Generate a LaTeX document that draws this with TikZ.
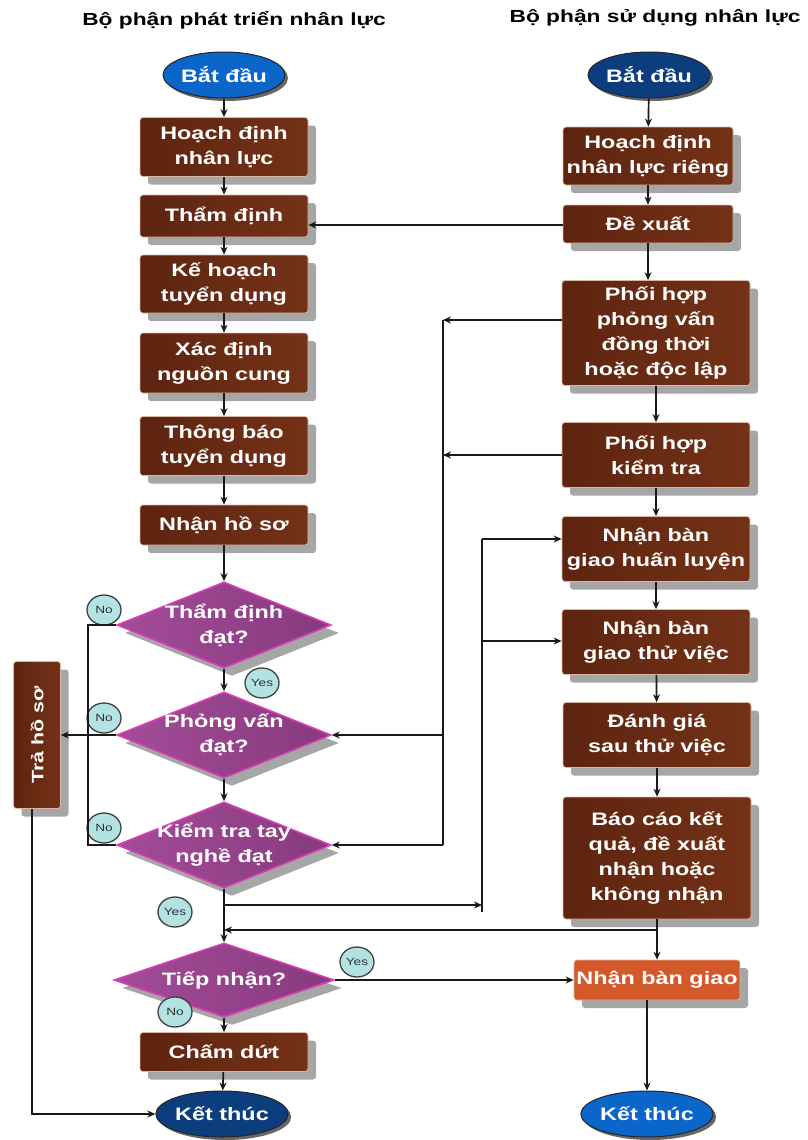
\documentclass[tikz,border=0pt]{standalone}
\usepackage{fontspec}
\usepackage{graphicx}
\setmainfont{Liberation Sans}
\newfontfamily\wide[FakeStretch=1.3]{Liberation Sans}
\usetikzlibrary{shapes.geometric,shadows,arrows.meta,calc}

\definecolor{brownL}{HTML}{5E2410}
\definecolor{brownR}{HTML}{743217}
\definecolor{boxedge}{HTML}{D9B8A8}
\definecolor{purpL}{HTML}{A34C98}
\definecolor{purpR}{HTML}{873A7E}
\definecolor{purpedge}{HTML}{D63CB4}
\definecolor{bluebright}{HTML}{0A66C8}
\definecolor{bluedark}{HTML}{0C3D7C}
\definecolor{orangebox}{HTML}{D4592A}
\definecolor{tagfill}{HTML}{B2E2E2}

\tikzset{
  shade/.style={drop shadow={shadow xshift=8pt,shadow yshift=-8pt,fill=black!35,opacity=1}},
  procbox/.style={rectangle, rounded corners=3pt, left color=brownL, right color=brownR,
    draw=boxedge, line width=0.7pt, text=white, align=center, inner sep=0pt,
    font=\wide\bfseries\fontsize{18}{25}\selectfont, shade},
  decide/.style={diamond, left color=purpL, right color=purpR, draw=purpedge,
    line width=1.6pt, text=white,
    align=center, inner xsep=-25pt, inner ysep=-12pt, aspect=2.5,
    minimum width=214pt, minimum height=86pt,
    font=\wide\bfseries\fontsize{18}{25}\selectfont, shade},
  terminal/.style={ellipse, draw=black!85, line width=1pt, text=white, inner sep=0pt,
    minimum width=122pt, minimum height=46pt,
    font=\wide\bfseries\fontsize{18}{22}\selectfont,
    drop shadow={shadow xshift=3pt,shadow yshift=-3pt,fill=black!60,opacity=1}},
  tag/.style={ellipse, fill=tagfill, draw=black!75, line width=1.3pt, inner sep=0pt,
    minimum width=34pt, minimum height=30pt, text=black!80,
    font=\wide\fontsize{10.5}{12}\selectfont},
  title/.style={font=\wide\bfseries\fontsize{17.5}{20}\selectfont, text=black},
  link/.style={line width=1.7pt, draw=black!90},
  arr/.style={link, -{Stealth[length=8pt,width=7pt]}},
}

\begin{document}
\begin{tikzpicture}[x=1pt,y=-1pt]
\useasboundingbox (0,0) rectangle (808,1140);

% column headings
\node[title] (h1) at (234,20) {Bộ phận phát triển nhân lực};
\node[title] (h2) at (655,18) {Bộ phận sử dụng nhân lực};

% ---- development department column ----
\node[terminal, fill=bluebright] (bd1) at (224,75) {Bắt đầu};
\node[procbox, minimum width=168pt, minimum height=59pt] (hd1) at (224,147) {Hoạch định\\nhân lực};
\node[procbox, minimum width=168pt, minimum height=42pt] (td) at (224,216) {Thẩm định};
\node[procbox, minimum width=168pt, minimum height=58pt] (kh) at (224,284) {Kế hoạch\\tuyển dụng};
\node[procbox, minimum width=168pt, minimum height=60pt] (xd) at (224,363) {Xác định\\nguồn cung};
\node[procbox, minimum width=168pt, minimum height=59pt] (tb) at (224,446) {Thông báo\\tuyển dụng};
\node[procbox, minimum width=168pt, minimum height=40pt] (nh) at (224,525) {Nhận hồ sơ};
\node[decide] (d1) at (224,625) {Thẩm định\\đạt?};
\node[decide] (d2) at (224,735) {Phỏng vấn\\đạt?};
\node[decide] (d3) at (224,845) {Kiểm tra tay\\nghề đạt};
\node[decide, minimum width=220pt, minimum height=74pt] (tn) at (224,980) {Tiếp nhận?};
\node[procbox, minimum width=168pt, minimum height=39pt] (cd) at (224,1052) {Chấm dứt};
\node[terminal, fill=bluedark, minimum width=128pt] (kt1) at (222,1114) {Kết thúc};
\node[procbox, minimum width=47pt, minimum height=147pt,
      font=\wide\bfseries\fontsize{16.5}{20}\selectfont] (tra) at (37,735) {\rotatebox{90}{Trả hồ sơ}};

% ---- user department column ----
\node[terminal, fill=bluedark] (bd2) at (649,75) {Bắt đầu};
\node[procbox, minimum width=170pt, minimum height=58pt] (hd2) at (648,156) {Hoạch định\\nhân lực riêng};
\node[procbox, minimum width=170pt, minimum height=38pt] (dx) at (648,224) {Đề xuất};
\node[procbox, minimum width=188pt, minimum height=105pt] (ph1) at (656,333) {Phối hợp\\phỏng vấn\\đồng thời\\hoặc độc lập};
\node[procbox, minimum width=188pt, minimum height=65pt] (ph2) at (656,455) {Phối hợp\\kiểm tra};
\node[procbox, minimum width=188pt, minimum height=65pt] (nb1) at (656,549) {Nhận bàn\\giao huấn luyện};
\node[procbox, minimum width=188pt, minimum height=65pt] (nb2) at (656,642) {Nhận bàn\\giao thử việc};
\node[procbox, minimum width=188pt, minimum height=65pt] (dg) at (657,735) {Đánh giá\\sau thử việc};
\node[procbox, minimum width=188pt, minimum height=122pt] (bc) at (657,858) {Báo cáo kết\\quả, đề xuất\\nhận hoặc\\không nhận};
\node[procbox, left color=orangebox, right color=orangebox, minimum width=166pt, minimum height=40pt] (nbg) at (657,980) {Nhận bàn giao};
\node[terminal, fill=bluebright, minimum width=118pt] (kt2) at (647,1114) {Kết thúc};

% decision tags
\node[tag] (no1) at (104,610) {No};
\node[tag] (no2) at (104,718) {No};
\node[tag] (no3) at (104,828) {No};
\node[tag] (yes1) at (262,683) {Yes};
\node[tag] (yes2) at (175,912) {Yes};
\node[tag] (yes3) at (357,962) {Yes};
\node[tag] (no4) at (175,1012) {No};

% junction points
\coordinate (vA) at (443,320);
\coordinate (vC) at (482,905);
\coordinate (vCb) at (482,912);
\coordinate (jR) at (657,930);
\coordinate (jL) at (224,930);
\coordinate (nx) at (88,735);
\coordinate (lx) at (32,1114);
\coordinate (dxw) at ($(dx.west)+(0,1)$);
\coordinate (ph1w) at ($(ph1.west)+(0,-13)$);
\coordinate (nb1w) at ($(nb1.west)+(0,-10)$);
\coordinate (nb2w) at ($(nb2.west)+(0,-1)$);

% main flow, development column
\draw[arr] (bd1) -- (hd1);
\draw[arr] (hd1) -- (td);
\draw[arr] (td) -- (kh);
\draw[arr] (kh) -- (xd);
\draw[arr] (xd) -- (tb);
\draw[arr] (tb) -- (nh);
\draw[arr] (nh) -- (d1);
\draw[arr] (d1) -- (d2);
\draw[arr] (d2) -- (d3);
\draw[arr] (d3.south) -- (tn.north);
\draw[arr] (tn) -- (cd);
\draw[arr] (cd) -- (kt1);

% rejected branches
\draw[link] (d1.west) -- (d1.west -| nx) -- (d3.west -| nx) -- (d3.west);
\draw[arr] (d2.west) -- (tra.east |- d2.west);
\draw[arr] (tra.south -| lx) -- (lx) -- (kt1.west);

% main flow, user column
\draw[arr] (bd2) -- (hd2);
\draw[arr] (hd2) -- (dx);
\draw[arr] (dx.south) -- (dx.south |- ph1.north);
\draw[arr] (ph1.south) -- (ph2.north);
\draw[arr] (ph2) -- (nb1);
\draw[arr] (nb1) -- (nb2);
\draw[arr] (nb2) -- (dg);
\draw[arr] (dg) -- (bc);
\draw[link] (bc.south) -- (jR);
\draw[arr] (jR) -- (jL);
\draw[arr] (jR) -- (nbg.north);
\draw[arr] (nbg.south -| kt2.north) -- (kt2.north);
\draw[arr] (tn.east) -- (nbg.west);

% proposal sent for appraisal
\draw[arr] (dxw) -- (td.east |- dxw);

% interview and test coordination
\draw[arr] (ph1w) -- (vA);
\draw[arr] (ph2.west) -- (vA |- ph2.west);
\draw[link] (vA) -- (vA |- d3.east);
\draw[arr] (vA |- d2.east) -- (d2.east);
\draw[arr] (vA |- d3.east) -- (d3.east);

% hand-over for training and probation
\draw[arr] (d3.south |- vC) -- (vC);
\draw[link] (vCb) -- (vC |- nb1w);
\draw[arr] (vC |- nb1w) -- (nb1w);
\draw[arr] (vC |- nb2w) -- (nb2w);
\end{tikzpicture}
\end{document}
